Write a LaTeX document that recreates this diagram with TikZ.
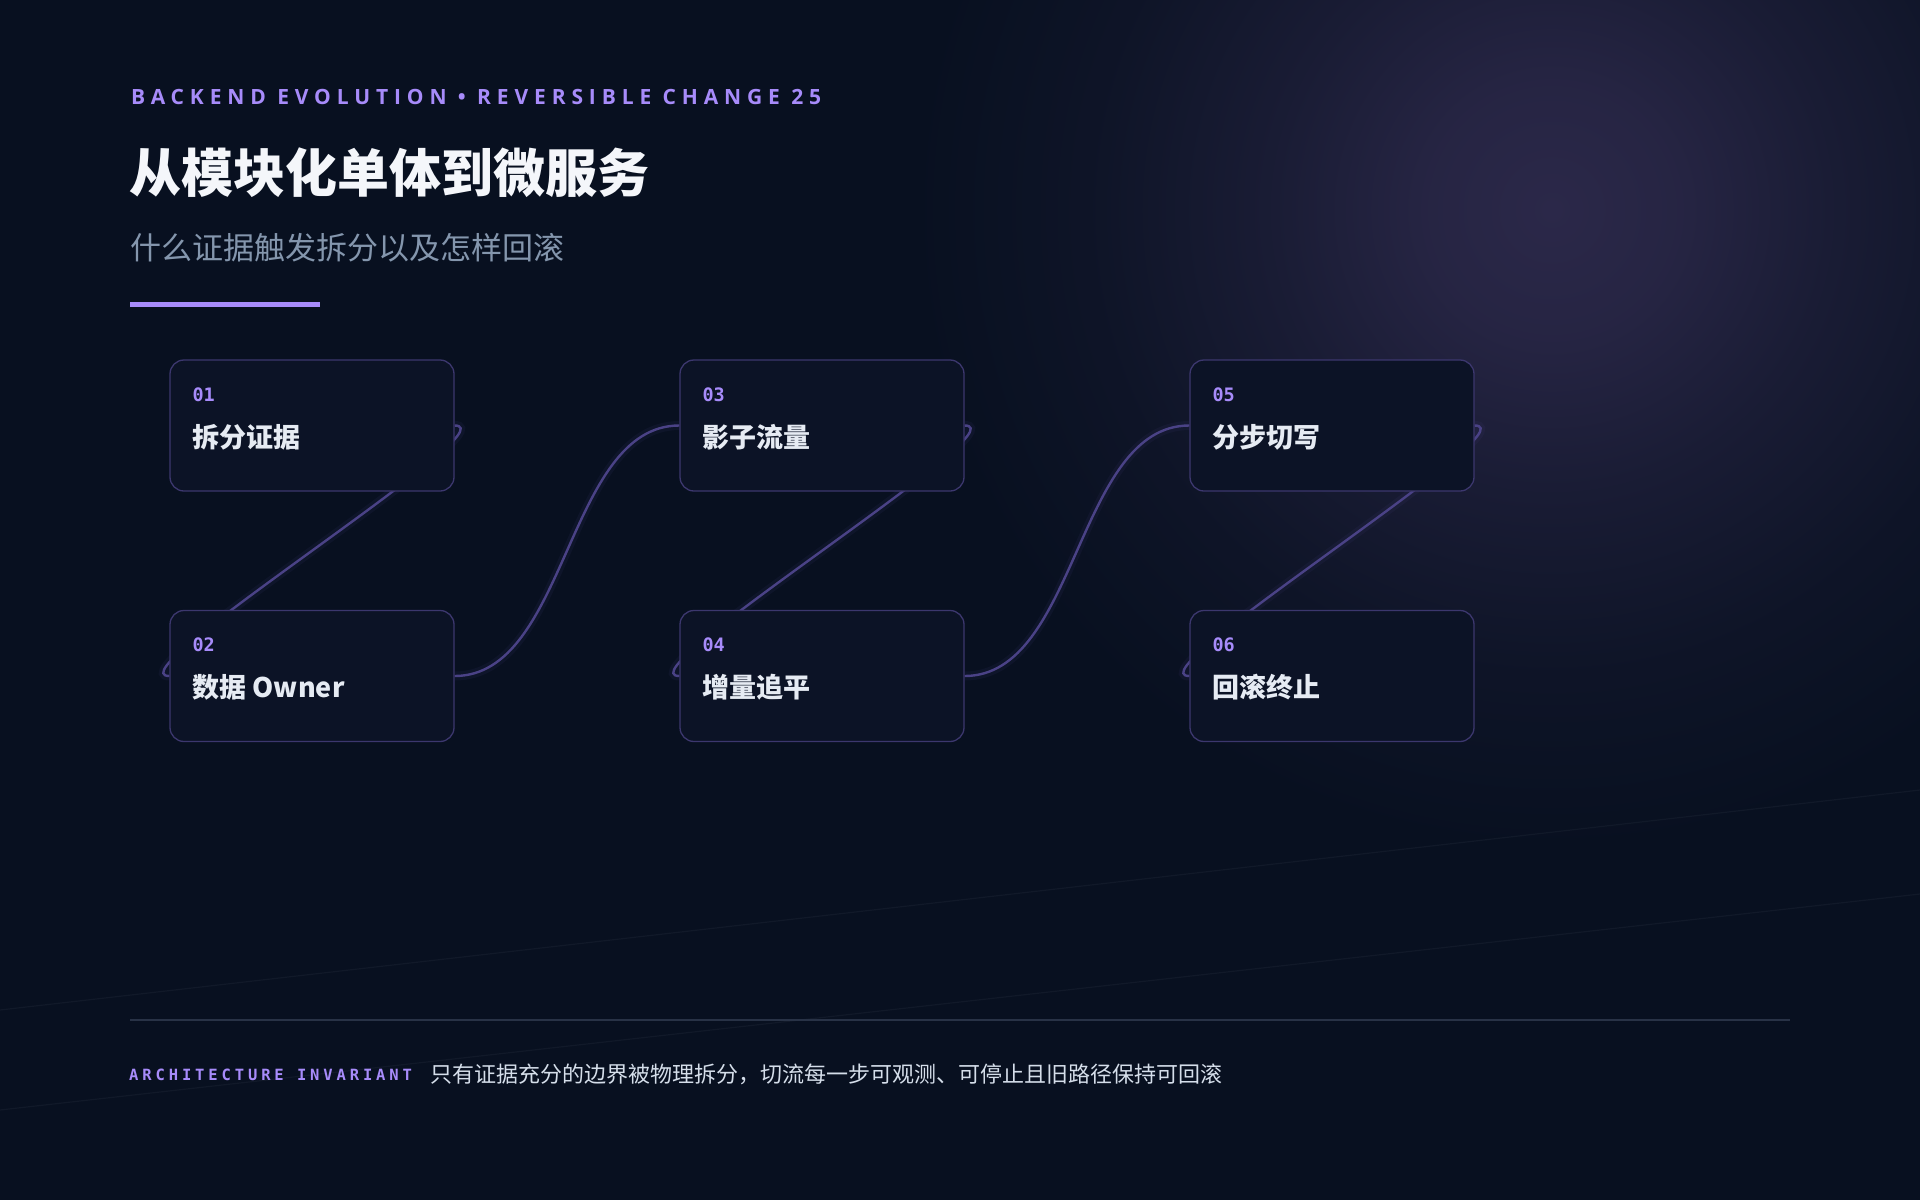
\documentclass[tikz,border=0pt]{standalone}
\usepackage{fontspec}
\setmainfont{Noto Sans}
\newfontfamily\cjk{Noto Sans CJK SC}
\newfontfamily\kickfont{Open Sans}[LetterSpace=28]
\newfontfamily\monofont{DejaVu Sans Mono}
\newfontfamily\labelfont{DejaVu Sans Mono}[LetterSpace=25]
\definecolor{bg}{HTML}{081020}
\definecolor{glowc}{HTML}{2B2849}
\definecolor{boxfill}{HTML}{0C1326}
\definecolor{boxline}{HTML}{3C376E}
\definecolor{wire}{HTML}{4A4286}
\definecolor{violet}{HTML}{A78BFA}
\definecolor{subgray}{HTML}{8496AD}
\definecolor{titlewhite}{HTML}{F4F6FA}
\definecolor{nodewhite}{HTML}{E6EBF3}
\definecolor{foottext}{HTML}{D5DEEA}
\definecolor{rulec}{HTML}{283246}
\definecolor{diagc}{HTML}{111929}
\pgfdeclareradialshading{glowshade}{\pgfpoint{0bp}{0bp}}{%
  color(0bp)=(glowc);
  color(5bp)=(glowc!85!bg);
  color(11bp)=(glowc!50!bg);
  color(18bp)=(glowc!18!bg);
  color(25bp)=(bg);
  color(50bp)=(bg)}
\tikzset{
  stepbox/.style={draw=boxline, line width=1.3pt, fill=boxfill, rounded corners=14pt,
    minimum width=284pt, minimum height=131pt, inner sep=0pt},
  numtxt/.style={anchor=base west, inner sep=0pt, text=violet,
    font=\monofont\bfseries\fontsize{18.5}{22}\selectfont},
  ttltxt/.style={anchor=base west, inner sep=0pt, text=nodewhite,
    font=\cjk\bfseries\fontsize{27}{31}\selectfont},
  wireline/.style={draw=wire, line width=2.4pt},
  wireglow/.style={draw=wire, line width=9pt, opacity=0.10},
}
\begin{document}
\begin{tikzpicture}[x=1pt, y=-1pt]
\useasboundingbox (0,0) rectangle (1920,1200);
\fill[bg] (0,0) rectangle (1920,1200);
\begin{scope}
  \clip (0,0) rectangle (1920,1200);
  \shade[shading=glowshade] (1552,210) circle (640);
  \draw[diagc, line width=1.2pt] (0,1010) -- (1920,790);
  \draw[diagc, line width=1.2pt] (0,1110) -- (1920,894);
\end{scope}

% header
\node[anchor=base west, inner sep=0pt, text=violet,
  font=\kickfont\bfseries\fontsize{21}{25}\selectfont]
  (kicker) at (131,104) {BACKEND EVOLUTION • REVERSIBLE CHANGE 25};
\node[anchor=base west, inner sep=0pt, text=titlewhite,
  font=\cjk\bfseries\fontsize{52}{60}\selectfont]
  (title) at (129,192) {从模块化单体到微服务};
\node[anchor=base west, inner sep=0pt, text=subgray,
  font=\cjk\fontsize{31}{36}\selectfont]
  (subtitle) at (130,259) {什么证据触发拆分以及怎样回滚};
\fill[violet] (130,302) rectangle (320,307);

% steps
\coordinate (c1) at (312,425.5);
\coordinate (c2) at (312,676);
\coordinate (c3) at (822,425.5);
\coordinate (c4) at (822,676);
\coordinate (c5) at (1332,425.5);
\coordinate (c6) at (1332,676);
\foreach \i in {1,...,6} {
  \node[stepbox, draw=none, fill=none] (n\i) at (c\i) {};
}
% connectors (behind boxes)
\foreach \a/\b/\k in {1/2/60, 2/3/113, 3/4/60, 4/5/113, 5/6/60} {
  \draw[wireglow] (n\a.east) .. controls +(\k,0) and +(-\k,0) .. (n\b.west);
  \draw[wireline] (n\a.east) .. controls +(\k,0) and +(-\k,0) .. (n\b.west);
}
\foreach \i/\num/\ttl in {1/01/拆分证据, 2/02/数据 Owner, 3/03/影子流量, 4/04/增量追平, 5/05/分步切写, 6/06/回滚终止} {
  \node[stepbox] (box\i) at (c\i) {};
  \node[numtxt] (num\i) at ([xshift=23pt, yshift=-42pt]box\i.north west) {\num};
  \node[ttltxt] (ttl\i) at ([xshift=23pt, yshift=-88pt]box\i.north west) {\ttl};
}

% footer
\draw[rulec, line width=1.5pt] (130,1020) coordinate (r1) -- (1790,1020) coordinate (r2);
\node[anchor=base west, inner sep=0pt, text=violet,
  font=\labelfont\bfseries\fontsize{15.5}{18}\selectfont]
  (flabel) at (129,1080) {ARCHITECTURE INVARIANT};
\node[anchor=base west, inner sep=0pt, text=foottext,
  font=\cjk\fontsize{22}{26}\selectfont]
  (ftext) at (430,1082) {只有证据充分的边界被物理拆分，切流每一步可观测、可停止且旧路径保持可回滚};
\end{tikzpicture}
\end{document}
